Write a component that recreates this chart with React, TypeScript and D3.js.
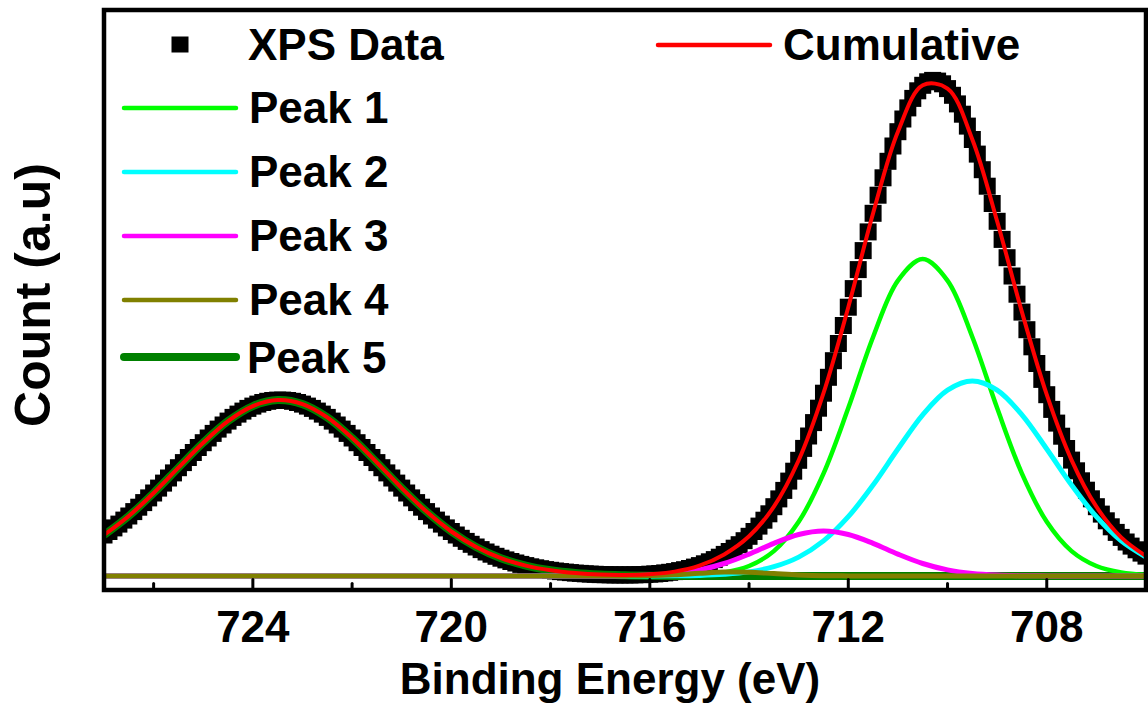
import React from 'react';
import * as d3 from 'd3';

// XPS data, read every 0.1 eV from 727.0 eV down to 706.0 eV (a.u.)
const dataStart = 727;
const dataStep = 0.1;
const xpsCounts = [
  41.0, 44.5, 48.1, 51.9, 55.9, 60.0, 64.4, 68.8, 73.4, 78.1,
  83.0, 87.9, 92.9, 98.0, 103.1, 108.3, 113.4, 118.5, 123.5, 128.5,
  133.3, 138.0, 142.6, 146.9, 151.0, 154.9, 158.6, 161.9, 164.9, 167.6,
  169.9, 171.9, 173.5, 174.7, 175.5, 175.9, 175.9, 175.5, 174.7, 173.5,
  171.9, 169.9, 167.6, 164.9, 161.9, 158.6, 154.9, 151.0, 146.9, 142.6,
  138.0, 133.3, 128.5, 123.5, 118.5, 113.4, 108.3, 103.1, 98.0, 92.9,
  87.9, 83.0, 78.1, 73.4, 68.8, 64.4, 60.0, 55.9, 51.9, 48.1,
  44.5,
  41.0, 37.7, 34.6, 31.7, 29.0, 26.4, 24.0, 21.8, 19.7, 17.8,
  16.1, 14.5, 13.0, 11.6, 10.4, 9.2, 8.2, 7.3, 6.4, 5.7,
  5.0, 4.4, 3.9, 3.4, 2.9, 2.6, 2.2, 1.9, 1.7, 1.4,
  1.3, 1.2, 1.1, 1.1, 1.1, 1.1, 1.2, 1.3, 1.5, 1.8,
  2.1, 2.5, 3.1, 3.7, 4.4, 5.4, 6.3, 7.5, 8.9, 10.4,
  12.2, 14.2, 16.4, 18.8, 21.6, 24.5, 27.8, 31.3, 35.3, 39.7,
  44.5, 49.9, 55.8, 62.2, 69.3, 77.1, 85.6, 94.9, 104.8, 115.7,
  127.6, 140.0, 153.4, 167.8, 182.8, 198.7, 215.3, 232.5, 250.5, 268.8,
  287.4, 306.4, 325.4, 344.1, 362.7, 380.8, 398.2, 414.7, 430.0, 444.3,
  457.0, 468.1, 477.6, 485.2, 490.7, 494.2, 495.6, 494.9, 492.2, 487.4,
  480.7, 472.1, 461.8, 449.9, 436.5, 421.9, 406.3, 389.8, 372.5, 354.7,
  336.6, 318.3, 300.0, 281.8, 263.9, 246.3, 229.2, 212.5, 196.6, 181.3,
  166.6, 152.9, 139.8, 127.5, 115.9, 105.2, 95.2, 85.8, 77.2, 69.3,
  61.9, 55.2, 49.2, 43.6, 38.6, 34.0, 29.9, 26.2, 22.9, 19.9,
];

// fitted components, every 0.5 eV from 727 to 706 eV
const fitStart = 727;
const fitStep = 0.5;
const peak1 = [
  0, 0, 0, 0, 0, 0, 0, 0, 0, 0, 0, 0, 0, 0, 0, 0, 0, 0, 0, 0, 0, 0,
  0.1, 0.3, 1.0, 3.5, 10.0, 24.9, 54.2, 102.4, 167.9, 239.0, 295.4,
  317.0, 295.4, 239.0, 167.9, 102.4, 54.2, 24.9, 10.0, 3.5, 1.0,
];
const peak2 = [
  0, 0, 0, 0, 0, 0, 0, 0, 0, 0, 0, 0, 0, 0, 0, 0, 0, 0, 0, 0, 0,
  0, 0.1, 0.2, 0.6, 1.7, 4.1, 9.3, 18.9, 35.1, 59.3, 91.0, 127.0,
  161.2, 185.9, 195.0, 185.9, 161.2, 127.0, 91.0, 59.3, 35.1, 18.9,
];
const peak3 = [
  0, 0, 0, 0, 0, 0, 0, 0, 0, 0, 0, 0, 0, 0, 0, 0, 0, 0, 0, 0, 0,
  0.3, 0.9, 2.5, 6.1, 12.5, 21.9, 32.7, 41.5, 45.0, 41.5, 32.7, 21.9,
  12.5, 6.1, 2.5, 0.9, 0.3, 0.1, 0, 0, 0, 0,
];
const peak4 = [
  0, 0, 0, 0, 0, 0, 0, 0, 0, 0, 0, 0, 0, 0, 0, 0, 0, 0, 0, 0, 0,
  0.1, 0.4, 1.3, 2.7, 3.9, 3.7, 2.4, 1.1, 0.3, 0.1,
  0, 0, 0, 0, 0, 0, 0, 0, 0, 0, 0, 0,
];
const peak5 = [
  41.0, 60.0, 83.0, 108.3, 133.3, 154.9, 169.9, 175.9, 171.9, 158.6,
  138.0, 113.4, 87.9, 64.4, 44.5, 29.0, 17.8, 10.4, 5.7, 2.9, 1.4,
  0.7, 0.3, 0.1,
  0, 0, 0, 0, 0, 0, 0, 0, 0, 0, 0, 0, 0, 0, 0, 0, 0, 0, 0,
];

const majorTicks = [724, 720, 716, 712, 708];
const minorTicks = [726, 722, 718, 714, 710];

const peakNames = ['Peak 1', 'Peak 2', 'Peak 3', 'Peak 4', 'Peak 5'];
const peakColors = ['#00ff00', '#00ffff', '#ff00ff', '#808000', '#008000'];
const peakWidths = [4.5, 5, 5, 5, 8];

const FONT = '"Liberation Sans", Arial, Helvetica, sans-serif';

export default function App() {
  const plot = { left: 104, right: 1146, top: 10, bottom: 590 };
  const x = d3.scaleLinear().domain([727, 706]).range([plot.left, plot.right]);
  const y = d3.scaleLinear().domain([-14, 566]).range([plot.bottom, plot.top]);

  const fitE = peak1.map((_, i) => fitStart - i * fitStep);
  const dataE = xpsCounts.map((_, i) => dataStart - i * dataStep);
  const peaks = [peak1, peak2, peak3, peak4, peak5];
  const cumulative = fitE.map((_, i) => peaks.reduce((s, p) => s + p[i], 0));

  const line = d3
    .line<number>()
    .x((_, i) => x(fitE[i]))
    .y((d) => y(d))
    .curve(d3.curveCatmullRom.alpha(0.5));

  const drawOrder = [4, 0, 1, 2, 3];
  const sq = 17;

  return (
    <div style={{ position: 'absolute', left: 0, top: 0 }}>
      <svg width={1148} height={707} style={{ display: 'block', background: '#fff' }}>
        <defs>
          <clipPath id="plotClip">
            <rect x={plot.left} y={plot.top} width={plot.right - plot.left} height={plot.bottom - plot.top} />
          </clipPath>
        </defs>

        <g clipPath="url(#plotClip)">
          {xpsCounts.map((v, i) => (
            <rect key={i} x={x(dataE[i]) - sq / 2} y={y(v) - sq / 2} width={sq} height={sq} fill="#000" />
          ))}
          {drawOrder.map((k) => (
            <path key={k} d={line(peaks[k]) || ''} fill="none" stroke={peakColors[k]} strokeWidth={peakWidths[k]} />
          ))}
          <path d={line(cumulative) || ''} fill="none" stroke="#ff0000" strokeWidth={4} />
        </g>

        {/* ticks, pointing inward */}
        {majorTicks.map((t) => (
          <line key={'M' + t} x1={x(t)} x2={x(t)} y1={plot.bottom} y2={plot.bottom - 10.5} stroke="#000" strokeWidth={3} strokeLinecap="round" />
        ))}
        {minorTicks.map((t) => (
          <line key={'m' + t} x1={x(t)} x2={x(t)} y1={plot.bottom} y2={plot.bottom - 6.5} stroke="#000" strokeWidth={3} strokeLinecap="round" />
        ))}

        <rect x={plot.left} y={plot.top} width={plot.right - plot.left} height={plot.bottom - plot.top} fill="none" stroke="#000" strokeWidth={4.5} />

        {majorTicks.map((t) => (
          <text key={'l' + t} x={x(t)} y={642} textAnchor="middle" fontFamily={FONT} fontWeight="bold" fontSize={44} fill="#000">
            {t}
          </text>
        ))}

        <text x={610} y={694} textAnchor="middle" fontFamily={FONT} fontWeight="bold" fontSize={44} fill="#000">
          Binding Energy (eV)
        </text>
        <text transform="translate(50,295) rotate(-90)" textAnchor="middle" fontFamily={FONT} fontWeight="bold" fontSize={50} fill="#000">
          Count (a.u)
        </text>

        {/* legend */}
        <g fontFamily={FONT} fontWeight="bold" fontSize={44} fill="#000">
          <rect x={171.5} y={36.5} width={17} height={16} fill="#000" />
          <text x={248} y={60}>XPS Data</text>
          <line x1={658} x2={770} y1={45} y2={45} stroke="#ff0000" strokeWidth={4.5} strokeLinecap="round" />
          <text x={783} y={60}>Cumulative</text>
          {peakNames.map((n, i) => (
            <g key={n}>
              <line
                x1={i === 4 ? 124 : 124}
                x2={236}
                y1={108 + i * 64 - (i === 4 ? 7 : 0)}
                y2={108 + i * 64 - (i === 4 ? 7 : 0)}
                stroke={peakColors[i]}
                strokeWidth={i === 4 ? 8 : 4.5}
                strokeLinecap="round"
              />
              <text x={i === 4 ? 247 : 249} y={123 + i * 64 - (i === 4 ? 6 : 0)}>{n}</text>
            </g>
          ))}
        </g>
      </svg>
    </div>
  );
}
